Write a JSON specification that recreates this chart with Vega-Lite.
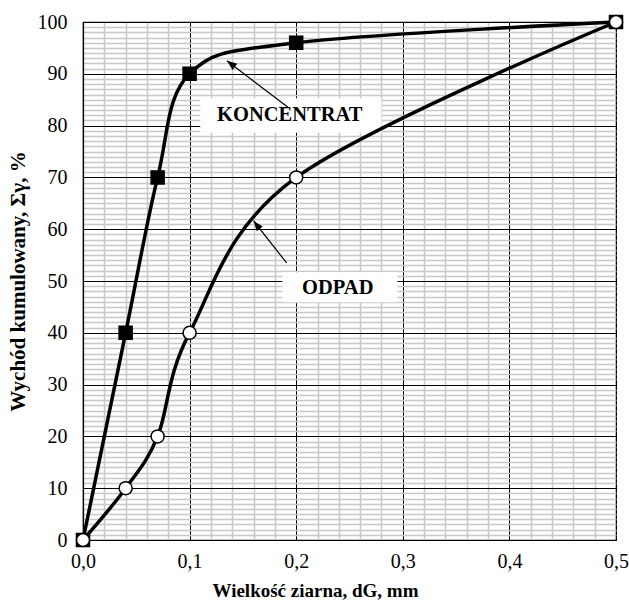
{
  "$schema": "https://vega.github.io/schema/vega-lite/v6.json",
  "autosize": {"type": "none"},
  "width": 533,
  "height": 518,
  "padding": {"left": 83, "top": 22, "right": 13, "bottom": 60},
  "background": "white",
  "config": {
    "view": {"stroke": "black", "strokeWidth": 1.2},
    "font": "'Liberation Serif', 'Times New Roman', 'DejaVu Serif', serif"
  },
  "datasets": {
    "series": [
      {"series": "KONCENTRAT", "d": 0.0, "y": 0},
      {"series": "KONCENTRAT", "d": 0.04, "y": 40},
      {"series": "KONCENTRAT", "d": 0.07, "y": 70},
      {"series": "KONCENTRAT", "d": 0.1, "y": 90},
      {"series": "KONCENTRAT", "d": 0.2, "y": 96},
      {"series": "KONCENTRAT", "d": 0.5, "y": 100},
      {"series": "ODPAD", "d": 0.0, "y": 0},
      {"series": "ODPAD", "d": 0.04, "y": 10},
      {"series": "ODPAD", "d": 0.07, "y": 20},
      {"series": "ODPAD", "d": 0.1, "y": 40},
      {"series": "ODPAD", "d": 0.2, "y": 70},
      {"series": "ODPAD", "d": 0.5, "y": 100}
    ],
    "boxes": [
      {"x1": 0.110, "x2": 0.280, "y1": 85.3, "y2": 78.6},
      {"x1": 0.187, "x2": 0.295, "y1": 51.7, "y2": 45.9}
    ],
    "arrows": [
      {"xt": 0.192, "yt": 83.6, "xh": 0.135, "yh": 92.5, "angle": 307},
      {"xt": 0.191, "yt": 53.5, "xh": 0.160, "yh": 61.6, "angle": 322}
    ],
    "labels": [
      {"label": "KONCENTRAT", "x": 0.194, "y": 82.0},
      {"label": "ODPAD", "x": 0.239, "y": 48.6}
    ]
  },
  "resolve": {"axis": {"x": "independent", "y": "independent"}},
  "layer": [
    {
      "data": {"name": "boxes"},
      "mark": {"type": "rect", "fill": "white", "stroke": null},
      "encoding": {
        "x": {
          "field": "x1", "type": "quantitative",
          "scale": {"domain": [0, 0.5], "nice": false, "zero": false},
          "axis": {
            "orient": "top", "labels": false, "ticks": false, "domain": false, "title": null,
            "grid": true, "gridColor": "#c8c8c8", "gridWidth": 1.5,
            "values": [0.02, 0.04, 0.06, 0.08, 0.12, 0.14, 0.16, 0.18, 0.22, 0.24, 0.26, 0.28, 0.32, 0.34, 0.36, 0.38, 0.42, 0.44, 0.46, 0.48]
          }
        },
        "x2": {"field": "x2"},
        "y": {
          "field": "y1", "type": "quantitative",
          "scale": {"domain": [0, 100], "nice": false, "zero": false},
          "axis": {
            "orient": "right", "labels": false, "ticks": false, "domain": false, "title": null,
            "grid": true, "gridColor": "#c8c8c8", "gridWidth": 1.5,
            "values": [1,2,3,4,5,6,7,8,9,11,12,13,14,15,16,17,18,19,21,22,23,24,25,26,27,28,29,31,32,33,34,35,36,37,38,39,41,42,43,44,45,46,47,48,49,51,52,53,54,55,56,57,58,59,61,62,63,64,65,66,67,68,69,71,72,73,74,75,76,77,78,79,81,82,83,84,85,86,87,88,89,91,92,93,94,95,96,97,98,99]
          }
        },
        "y2": {"field": "y2"}
      }
    },
    {
      "data": {"name": "series"},
      "mark": {"type": "line", "interpolate": "cardinal", "color": "black", "strokeWidth": 3.5},
      "encoding": {
        "x": {
          "field": "d", "type": "quantitative",
          "axis": {
            "orient": "bottom", "grid": true, "gridColor": "black", "gridWidth": 1,
            "values": [0, 0.1, 0.2, 0.3, 0.4, 0.5],
            "labelExpr": "replace(format(datum.value, '.1f'), '.', ',')",
            "labelFontSize": 20, "labelColor": "black",
            "labelPadding": 11, "ticks": false, "domain": true, "domainColor": "black", "domainWidth": 1.2,
            "title": "Wielkość ziarna, dG, mm",
            "titleFontSize": 19, "titleFontWeight": "bold", "titleColor": "black",
            "titleX": 232, "titleY": 50, "titleAlign": "center", "titleBaseline": "middle",
            "labelFlush": false
          }
        },
        "y": {
          "field": "y", "type": "quantitative",
          "axis": {
            "orient": "left", "grid": true, "gridColor": "black", "gridWidth": 1,
            "values": [0, 10, 20, 30, 40, 50, 60, 70, 80, 90, 100],
            "labelFontSize": 20, "labelColor": "black",
            "labelPadding": 16, "ticks": false, "domain": true, "domainColor": "black", "domainWidth": 1.2,
            "title": "Wychód kumulowany, Σγ, %",
            "titleFontSize": 21, "titleFontWeight": "bold", "titleColor": "black",
            "titleX": -65, "titleY": 259, "titleAngle": -90, "titleAlign": "center", "titleBaseline": "middle"
          }
        },
        "detail": {"field": "series"}
      }
    },
    {
      "data": {"name": "arrows"},
      "mark": {"type": "rule", "color": "black", "strokeWidth": 1.2},
      "encoding": {
        "x": {"field": "xt", "type": "quantitative", "axis": null},
        "y": {"field": "yt", "type": "quantitative", "axis": null},
        "x2": {"field": "xh"},
        "y2": {"field": "yh"}
      }
    },
    {
      "data": {"name": "arrows"},
      "mark": {"type": "point", "shape": "M0,0 L-0.38,1 L0.38,1 Z", "filled": true, "color": "black", "size": 400, "opacity": 1},
      "encoding": {
        "x": {"field": "xh", "type": "quantitative", "axis": null},
        "y": {"field": "yh", "type": "quantitative", "axis": null},
        "angle": {"field": "angle", "type": "quantitative", "scale": null}
      }
    },
    {
      "data": {"name": "series"},
      "mark": {"type": "point", "filled": true, "stroke": "black", "strokeWidth": 1.5, "opacity": 1, "size": 170},
      "encoding": {
        "x": {"field": "d", "type": "quantitative", "axis": null},
        "y": {"field": "y", "type": "quantitative", "axis": null},
        "shape": {"field": "series", "type": "nominal", "scale": {"domain": ["KONCENTRAT", "ODPAD"], "range": ["square", "circle"]}, "legend": null},
        "fill": {"field": "series", "type": "nominal", "scale": {"domain": ["KONCENTRAT", "ODPAD"], "range": ["black", "white"]}, "legend": null}
      }
    },
    {
      "data": {"name": "labels"},
      "mark": {"type": "text", "fontSize": 20.5, "fontWeight": "bold", "color": "black", "align": "center", "baseline": "middle"},
      "encoding": {
        "x": {"field": "x", "type": "quantitative", "axis": null},
        "y": {"field": "y", "type": "quantitative", "axis": null},
        "text": {"field": "label"}
      }
    }
  ]
}
